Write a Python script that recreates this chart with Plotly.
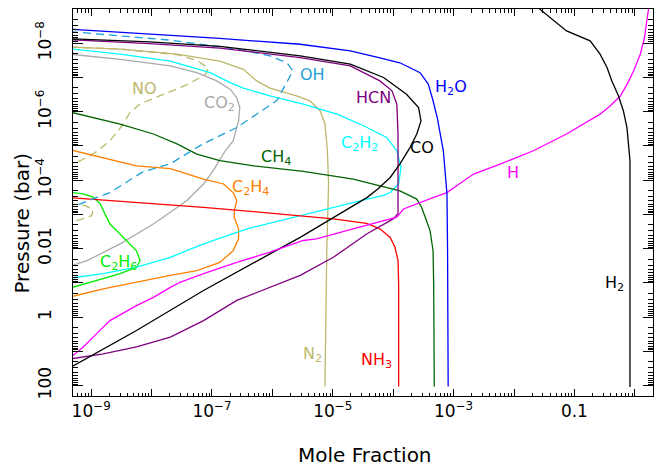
import numpy as np
import plotly.graph_objects as go

# Values, stored as log10(mole fraction) and
# log10(pressure / bar) pairs for each species.
h2o_x = [-9.35, -8.03, -6.87, -5.54, -4.71, -4.22, -3.89, -3.555, -3.42, -3.34, -3.27, -3.17, -3.11, -3.10, -3.09, -3.09]
h2o_p = [-8.41, -8.27, -8.14, -7.97, -7.78, -7.57, -7.43, -7.14, -6.81, -6.32, -5.82, -4.86, -3.61, -1.94, 0.1, 2.02]

oh_x = [-9.35, -7.69, -6.59, -6.04, -5.76, -5.66, -5.93, -6.59, -7.15, -7.69, -8.16, -8.69, -9.18, -9.35]
oh_p = [-8.34, -8.09, -7.83, -7.63, -7.43, -7.19, -6.32, -5.54, -5.06, -4.48, -4.23, -3.64, -3.31, -3.22]

no_x = [-9.35, -8.52, -7.58, -7.25, -7.06, -7.11, -7.45, -7.86, -8.19, -8.36, -8.49, -8.69, -8.94, -9.18, -9.35, -10.0,
        -9.35, -9.10, -8.97, -8.99, -9.18, -9.35]
no_p = [-7.89, -7.83, -7.67, -7.50, -7.28, -7.08, -6.76, -6.46, -6.23, -5.97, -5.59, -5.15, -4.80, -4.57, -4.46, -4.0,
        -3.31, -3.26, -3.14, -2.97, -2.85, -2.77]

n2_x = [-9.35, -8.52, -7.58, -6.87, -6.48, -6.26, -6.04, -5.60, -5.38, -5.21, -5.13, -5.09, -5.07, -5.10, -5.13]
n2_p = [-7.89, -7.83, -7.68, -7.48, -7.24, -6.90, -6.69, -6.46, -6.32, -6.03, -5.65, -4.86, -3.90, -1.94, 2.02]

c2h2_x = [-9.35, -8.52, -7.69, -7.03, -6.70, -6.48, -6.04, -5.49, -4.93, -4.49, -4.11, -3.94, -3.87, -3.91, -4.05, -4.16,
          -4.55, -4.99, -5.54, -6.42, -7.14, -7.69, -8.25, -8.80, -9.35]
c2h2_p = [-7.84, -7.68, -7.48, -7.14, -6.85, -6.69, -6.46, -6.22, -5.93, -5.59, -5.25, -4.86, -4.37, -3.89, -3.64, -3.56,
          -3.40, -3.21, -2.97, -2.58, -2.14, -1.75, -1.46, -1.27, -1.14]

co2_x = [-9.35, -8.52, -7.69, -7.25, -6.92, -6.70, -6.59, -6.54, -6.56, -6.65, -6.78, -6.98, -7.14, -7.42, -7.97, -8.52, -9.07, -9.35]
co2_p = [-7.68, -7.53, -7.34, -7.14, -6.90, -6.66, -6.41, -6.12, -5.73, -5.15, -4.86, -4.28, -3.89, -3.40, -2.72, -2.14, -1.65, -1.49]

co_x = [-9.35, -8.03, -6.87, -5.54, -4.71, -4.16, -3.78, -3.58, -3.54, -3.61, -3.72, -3.89, -4.05, -4.25, -4.43, -4.71,
        -4.99, -5.54, -6.04, -7.14, -8.25, -9.35]
co_p = [-8.13, -8.04, -7.91, -7.63, -7.39, -7.00, -6.51, -6.12, -5.73, -5.35, -4.96, -4.47, -4.08, -3.75, -3.50, -3.21,
        -2.92, -2.33, -1.85, -0.78, 0.39, 1.47]

hcn_x = [-9.35, -8.03, -6.87, -5.54, -4.71, -4.22, -4.02, -3.94, -3.92, -3.92, -3.92, -4.00, -4.44, -4.99, -5.54, -6.59,
         -7.14, -7.69, -8.25, -8.80, -9.35]
hcn_p = [-8.10, -7.99, -7.86, -7.58, -7.34, -6.90, -6.61, -6.22, -5.35, -3.40, -3.02, -2.87, -2.43, -1.75, -1.22, -0.49,
         0.10, 0.58, 0.87, 1.07, 1.22]

ch4_x = [-9.35, -8.52, -7.97, -7.58, -7.25, -6.87, -6.31, -5.49, -4.66, -4.13, -3.89, -3.61, -3.53, -3.47, -3.39, -3.34, -3.33, -3.32]
ch4_p = [-5.99, -5.64, -5.35, -5.06, -4.76, -4.57, -4.42, -4.26, -4.03, -3.81, -3.69, -3.45, -3.21, -2.92, -2.53, -1.94, -0.97, 2.02]

c2h4_x = [-9.35, -8.25, -7.69, -7.14, -6.81, -6.65, -6.59, -6.63, -6.63, -6.56, -6.56, -6.65, -6.87, -7.25, -7.69, -8.25, -8.80, -9.35]
c2h4_p = [-4.89, -4.42, -4.34, -4.03, -3.89, -3.64, -3.40, -3.11, -2.91, -2.58, -2.29, -1.94, -1.60, -1.36, -1.22, -1.02, -0.83, -0.59]

c2h6_x = [-9.35, -9.13, -8.96, -8.85, -8.77, -8.69, -8.58, -8.41, -8.25, -8.19, -8.25, -8.52, -8.91, -9.35]
c2h6_p = [-3.65, -3.60, -3.50, -3.31, -3.01, -2.72, -2.53, -2.24, -1.94, -1.65, -1.46, -1.27, -1.07, -0.85]

nh3_x = [-9.35, -8.25, -7.14, -6.04, -4.99, -4.44, -4.22, -4.05, -3.97, -3.92, -3.91, -3.91]
nh3_p = [-3.49, -3.35, -3.21, -3.04, -2.87, -2.74, -2.58, -2.33, -2.04, -1.65, -0.97, 2.02]

h_x = [0.24, 0.225, 0.20, 0.16, 0.09, -0.02, -0.13, -0.24, -0.41, -0.575, -1.13, -1.68, -2.23, -2.67, -2.89, -3.11, -3.33,
       -3.61, -3.83, -3.94, -4.16, -4.71, -5.27, -5.49, -6.04, -6.59, -7.14, -7.53, -7.69, -7.97, -8.25, -8.69, -8.91, -9.13, -9.35]
h_p = [-9.17, -8.99, -8.65, -8.16, -7.68, -7.19, -6.80, -6.46, -6.17, -5.93, -5.35, -4.86, -4.47, -4.18, -3.91, -3.64, -3.50,
       -3.31, -3.16, -2.92, -2.82, -2.56, -2.29, -2.24, -1.90, -1.60, -1.27, -1.02, -0.87, -0.58, -0.34, 0.10, 0.48, 0.87, 1.19]

h2_x = [-1.73, -1.57, -1.13, -0.74, -0.575, -0.46, -0.38, -0.27, -0.19, -0.13, -0.11, -0.08, -0.08]
h2_p = [-9.19, -8.99, -8.36, -8.07, -7.68, -7.29, -6.90, -6.46, -6.03, -5.54, -5.15, -4.57, 2.04]

KHAKI = "#BDB76B"
OH_BLUE = "#1E9FD6"

species = [
    ("N2", n2_x, n2_p, KHAKI, "solid"),
    ("NO", no_x, no_p, KHAKI, "8px,5px"),
    ("CO2", co2_x, co2_p, "#AAAAAA", "solid"),
    ("C2H6", c2h6_x, c2h6_p, "#00EE00", "solid"),
    ("C2H4", c2h4_x, c2h4_p, "#FF7F00", "solid"),
    ("C2H2", c2h2_x, c2h2_p, "#00FFFF", "solid"),
    ("CH4", ch4_x, ch4_p, "#006400", "solid"),
    ("NH3", nh3_x, nh3_p, "#FF0000", "solid"),
    ("OH", oh_x, oh_p, OH_BLUE, "8px,5px"),
    ("HCN", hcn_x, hcn_p, "#800080", "solid"),
    ("CO", co_x, co_p, "#000000", "solid"),
    ("H", h_x, h_p, "#FF00FF", "solid"),
    ("H2O", h2o_x, h2o_p, "#0000FF", "solid"),
    ("H2", h2_x, h2_p, "#000000", "solid"),
]

# label text, log10 x, log10 p, colour
labels = [
    ("NO", -8.11, -6.67, KHAKI),
    ("OH", -5.33, -7.10, OH_BLUE),
    ("CO<sub>2</sub>", -6.87, -6.23, "#AAAAAA"),
    ("HCN", -4.33, -6.41, "#800080"),
    ("H<sub>2</sub>O", -3.04, -6.70, "#0000FF"),
    ("C<sub>2</sub>H<sub>2</sub>", -4.55, -5.06, "#00FFFF"),
    ("CO", -3.52, -4.95, "#000000"),
    ("CH<sub>4</sub>", -5.94, -4.66, "#006400"),
    ("C<sub>2</sub>H<sub>4</sub>", -6.37, -3.78, "#FF7F00"),
    ("H", -2.02, -4.22, "#FF00FF"),
    ("C<sub>2</sub>H<sub>6</sub>", -8.55, -1.59, "#00EE00"),
    ("H<sub>2</sub>", -0.34, -0.98, "#000000"),
    ("N<sub>2</sub>", -5.34, 1.09, KHAKI),
    ("NH<sub>3</sub>", -4.27, 1.26, "#FF0000"),
]

FONT = "DejaVu Sans"

fig = go.Figure()
for name, lx, lp, color, dash in species:
    fig.add_trace(go.Scatter(
        x=np.power(10.0, lx), y=np.power(10.0, lp), name=name, mode="lines",
        line=dict(color=color, width=1.3, dash=dash), showlegend=False,
    ))

for text, lx, lp, color in labels:
    fig.add_annotation(x=lx, y=lp, text=text, showarrow=False,
                       xanchor="center", yanchor="middle",
                       font=dict(family=FONT, size=16, color=color))


def sup(k):
    return f"10<sup>\u2212{-k}</sup>"


x_major = [10.0 ** k for k in range(-9, 1)]
x_text = {-9: sup(-9), -7: sup(-7), -5: sup(-5), -3: sup(-3), -1: "0.1"}
y_major = [10.0 ** k for k in range(-9, 3)]
y_text = {-8: sup(-8), -6: sup(-6), -4: sup(-4), -2: "0.01", 0: "1", 2: "100"}
x_minor = [m * 10.0 ** k for k in range(-10, 1) for m in range(2, 10)]
y_minor = [m * 10.0 ** k for k in range(-10, 3) for m in range(2, 10)]

axis_common = dict(
    type="log", showgrid=False, zeroline=False, showline=True, linecolor="black",
    linewidth=1, mirror="ticks", ticks="inside", tickcolor="black", tickwidth=1,
    tickmode="array", tickfont=dict(family=FONT, size=17, color="black"),
    automargin=False,
)

fig.update_xaxes(
    **axis_common, range=[np.log10(5e-10), np.log10(2.0)], ticklen=7,
    tickvals=x_major, ticktext=[x_text.get(k, "") for k in range(-9, 1)],
    minor=dict(tickmode="array", tickvals=x_minor, ticks="inside", ticklen=3.5,
               tickcolor="black", tickwidth=1, showgrid=False),
)
fig.update_yaxes(
    **axis_common, range=[np.log10(200.0), -9], ticklen=10, tickangle=-90,
    ticklabelstandoff=14,
    tickvals=y_major, ticktext=[y_text.get(k, "") for k in range(-9, 3)],
    minor=dict(tickmode="array", tickvals=y_minor, ticks="inside", ticklen=5,
               tickcolor="black", tickwidth=1, showgrid=False),
)

fig.add_annotation(x=0.503, y=-0.152, xref="paper", yref="paper", text="Mole Fraction",
                   xanchor="center", yanchor="middle", showarrow=False,
                   font=dict(family=FONT, size=20, color="black"))
fig.add_annotation(x=-0.088, y=0.448, xref="paper", yref="paper", text="Pressure (bar)",
                   xanchor="center", yanchor="middle", textangle=-90, showarrow=False,
                   font=dict(family=FONT, size=20, color="black"))

# the page body adds an 8px offset, so the figure is sized to the visible area
fig.update_layout(
    width=660, height=458, margin=dict(l=65, r=15, t=1, b=70),
    paper_bgcolor="white", plot_bgcolor="white",
)
fig.write_html("out.html")
